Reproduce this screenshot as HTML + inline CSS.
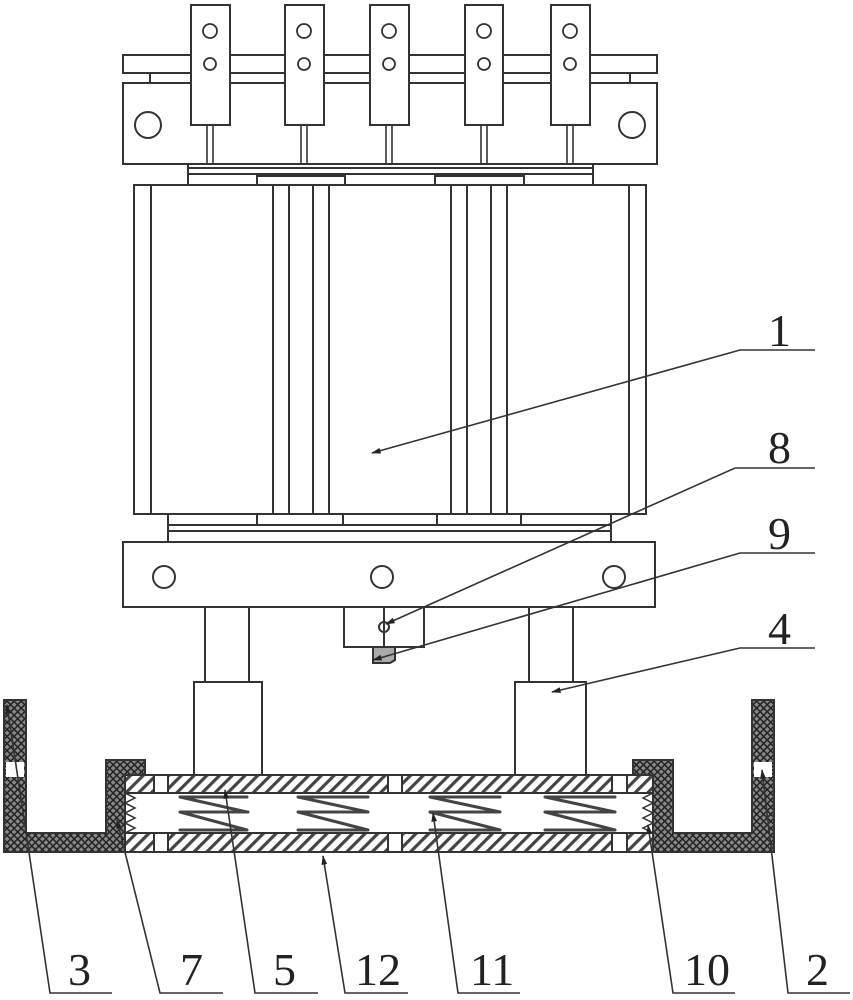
<!DOCTYPE html>
<html><head><meta charset="utf-8"><style>
html,body{margin:0;padding:0;background:#fff;}
svg{display:block;}
text{font-family:"Liberation Serif",serif;font-size:46px;fill:#222;}
</style></head><body>
<svg width="853" height="1000" viewBox="0 0 853 1000" xmlns="http://www.w3.org/2000/svg">
<defs>
<pattern id="hatch" width="9" height="9" patternUnits="userSpaceOnUse" patternTransform="rotate(-45)">
<rect width="9" height="9" fill="#fff"/><rect width="9" height="3.2" fill="#444"/>
</pattern>
<pattern id="cross" width="5" height="5" patternUnits="userSpaceOnUse" patternTransform="rotate(45)">
<rect width="5" height="5" fill="#888"/><rect width="5" height="1.5" fill="#222"/><rect width="1.5" height="5" fill="#222"/>
</pattern>
<marker id="ar" viewBox="0 0 10 10" refX="9" refY="5" markerWidth="6" markerHeight="6" orient="auto-start-reverse">
<path d="M0,2 L10,5 L0,8 z" fill="#222"/>
</marker>
</defs>
<g fill="none" stroke="#333" stroke-width="2">
<rect x="123" y="55" width="534" height="18"/>
<line x1="150" y1="73" x2="150" y2="83"/><line x1="630" y1="73" x2="630" y2="83"/>
<rect x="123" y="83" width="534" height="81"/>
<circle cx="148" cy="125" r="13"/><circle cx="632" cy="125" r="13"/>
<g fill="#fff">
<rect x="191" y="5" width="39" height="120"/><rect x="285" y="5" width="39" height="120"/>
<rect x="370" y="5" width="39" height="120"/><rect x="465" y="5" width="38" height="120"/>
<rect x="551" y="5" width="39" height="120"/>
</g>
<g stroke-width="1.8">
<circle cx="210" cy="31" r="7"/><circle cx="210" cy="64" r="6"/>
<circle cx="304" cy="31" r="7"/><circle cx="304" cy="64" r="6"/>
<circle cx="389" cy="31" r="7"/><circle cx="389" cy="64" r="6"/>
<circle cx="484" cy="31" r="7"/><circle cx="484" cy="64" r="6"/>
<circle cx="570" cy="31" r="7"/><circle cx="570" cy="64" r="6"/>
</g>
<g stroke-width="1.6">
<path d="M207,125V164M213,125V164M301,125V164M307,125V164M386,125V164M392,125V164M481,125V164M487,125V164M567,125V164M573,125V164"/>
</g>
<rect x="188" y="164" width="405" height="21"/>
<line x1="188" y1="168" x2="593" y2="168"/><line x1="188" y1="174" x2="593" y2="174"/>
<rect x="257" y="176" width="88" height="9"/><rect x="435" y="176" width="89" height="9"/>
<rect x="134" y="185" width="512" height="329"/>
<path d="M151,185V514M273,185V514M289,185V514M313,185V514M329,185V514M451,185V514M467,185V514M491,185V514M507,185V514M629,185V514"/>
<rect x="168" y="514" width="443" height="28"/>
<line x1="168" y1="525" x2="611" y2="525"/><line x1="168" y1="531" x2="611" y2="531"/>
<path d="M257,514V525M343,514V525M437,514V525M521,514V525"/>
<rect x="123" y="542" width="532" height="65"/>
<circle cx="164" cy="577" r="11"/><circle cx="382" cy="577" r="11"/><circle cx="614" cy="577" r="11"/>
<rect x="205" y="607" width="44" height="75"/><rect x="529" y="607" width="44" height="75"/>
<rect x="194" y="682" width="68" height="93"/><rect x="515" y="682" width="71" height="93"/>
<rect x="344" y="607" width="80" height="40"/>
<line x1="384" y1="607" x2="384" y2="647"/>
<circle cx="384" cy="627" r="5"/>
<path d="M373,647h22v13l-5,3h-17z" fill="#aaa"/>
<rect x="125" y="775" width="528" height="18" fill="url(#hatch)"/>
<rect x="125" y="833" width="528" height="19" fill="url(#hatch)"/>
<g fill="#fff"><rect x="154" y="775" width="14" height="18"/><rect x="388" y="775" width="14" height="18"/><rect x="612" y="775" width="15" height="18"/>
<rect x="154" y="833" width="14" height="19"/><rect x="388" y="833" width="14" height="19"/><rect x="612" y="833" width="15" height="19"/></g>
<path d="M4,700h22v133h80v-73h39v15h-20v77h-121z" fill="url(#cross)"/>
<path d="M774,700h-22v133h-79v-73h-40v15h20v77h121z" fill="url(#cross)"/>
<rect x="6" y="762" width="18" height="15" fill="#fff" stroke="none"/>
<rect x="754" y="762" width="18" height="15" fill="#fff" stroke="none"/>
<path d="M125,793l10,5l-10,5l10,5l-10,5l10,5l-10,5l10,5l-10,5" stroke-width="1.5"/>
<path d="M653,793l-10,5l10,5l-10,5l10,5l-10,5l10,5l-10,5l10,5" stroke-width="1.5"/>
<g stroke="#444" stroke-width="3" stroke-linecap="round">
<path d="M180,797H247M180,797L247,812M180,812H248M180,812L247,830M180,830H247"/>
<path d="M298,797H368M298,797L368,812M298,812H368M298,812L368,830M298,830H368"/>
<path d="M430,797H500M430,797L500,812M430,812H500M430,812L500,830M430,830H500"/>
<path d="M545,797H615M545,797L615,812M545,812H615M545,812L615,830M545,830H615"/>
</g>
<g stroke-width="1.6">
<path d="M815,350H740L372,453" marker-end="url(#ar)"/>
<path d="M815,468H735L386,624" marker-end="url(#ar)"/>
<path d="M815,553H740L373,660" marker-end="url(#ar)"/>
<path d="M815,648H740L552,692" marker-end="url(#ar)"/>
<path d="M112,993H50L7,705" marker-end="url(#ar)"/>
<path d="M223,993H160L117,820" marker-end="url(#ar)"/>
<path d="M318,993H255L225,790" marker-end="url(#ar)"/>
<path d="M408,993H345L323,856" marker-end="url(#ar)"/>
<path d="M520,993H458L433,813" marker-end="url(#ar)"/>
<path d="M735,993H673L648,825" marker-end="url(#ar)"/>
<path d="M850,993H788L762,770" marker-end="url(#ar)"/>
</g>
</g>
<text x="768" y="346">1</text>
<text x="768" y="463">8</text>
<text x="768" y="549">9</text>
<text x="768" y="644">4</text>
<text x="68" y="985">3</text>
<text x="180" y="985">7</text>
<text x="273" y="985">5</text>
<text x="355" y="985">12</text>
<text x="470" y="985">11</text>
<text x="684" y="985">10</text>
<text x="806" y="985">2</text>
</svg>
</body></html>
